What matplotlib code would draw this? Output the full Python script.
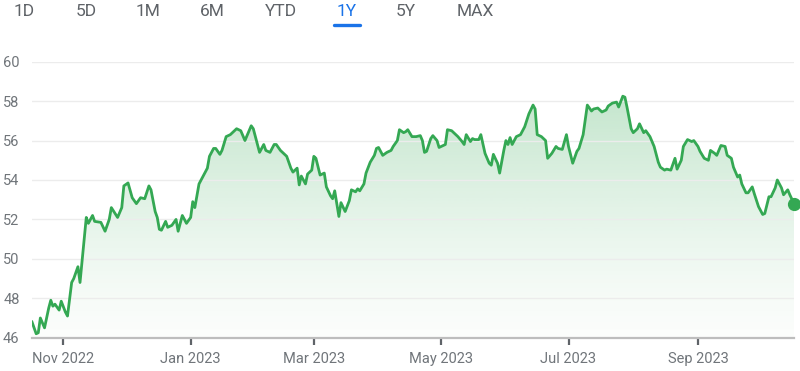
import matplotlib
matplotlib.use("Agg")
import matplotlib.pyplot as plt
import matplotlib.dates as mdates
import matplotlib.colors as mcolors
import numpy as np
import pandas as pd
from matplotlib.lines import Line2D

plt.rcParams["font.family"] = ["Roboto", "DejaVu Sans"]

# range selector tabs
ranges = ["1D", "5D", "1M", "6M", "YTD", "1Y", "5Y", "MAX"]
active_range = "1Y"

# closing prices
dates = [
    "2022-10-17", "2022-10-19", "2022-10-20", "2022-10-21", "2022-10-23", "2022-10-25",
    "2022-10-26", "2022-10-27", "2022-10-28", "2022-10-30", "2022-10-31", "2022-11-02",
    "2022-11-03", "2022-11-05", "2022-11-06", "2022-11-08", "2022-11-09", "2022-11-12",
    "2022-11-13", "2022-11-15", "2022-11-16", "2022-11-19", "2022-11-21", "2022-11-23",
    "2022-11-24", "2022-11-27", "2022-11-29", "2022-11-30", "2022-12-02", "2022-12-04",
    "2022-12-06", "2022-12-08", "2022-12-10", "2022-12-12", "2022-12-13", "2022-12-15",
    "2022-12-16", "2022-12-17", "2022-12-18", "2022-12-20", "2022-12-21", "2022-12-23",
    "2022-12-25", "2022-12-26", "2022-12-28", "2022-12-30", "2023-01-01", "2023-01-02",
    "2023-01-03", "2023-01-05", "2023-01-07", "2023-01-09", "2023-01-10", "2023-01-12",
    "2023-01-13", "2023-01-15", "2023-01-16", "2023-01-18", "2023-01-20", "2023-01-23",
    "2023-01-25", "2023-01-27", "2023-01-28", "2023-01-30", "2023-01-31", "2023-02-02",
    "2023-02-03", "2023-02-05", "2023-02-06", "2023-02-08", "2023-02-10", "2023-02-11",
    "2023-02-13", "2023-02-15", "2023-02-16", "2023-02-18", "2023-02-19", "2023-02-21",
    "2023-02-22", "2023-02-23", "2023-02-25", "2023-02-26", "2023-02-28", "2023-03-01",
    "2023-03-02", "2023-03-04", "2023-03-06", "2023-03-07", "2023-03-09", "2023-03-10",
    "2023-03-11", "2023-03-13", "2023-03-14", "2023-03-16", "2023-03-18", "2023-03-19",
    "2023-03-21", "2023-03-22", "2023-03-23", "2023-03-25", "2023-03-26", "2023-03-28",
    "2023-03-30", "2023-03-31", "2023-04-01", "2023-04-03", "2023-04-05", "2023-04-07",
    "2023-04-08", "2023-04-10", "2023-04-11", "2023-04-13", "2023-04-14", "2023-04-15",
    "2023-04-17", "2023-04-19", "2023-04-21", "2023-04-22", "2023-04-23", "2023-04-24",
    "2023-04-26", "2023-04-27", "2023-04-29", "2023-04-30", "2023-05-01", "2023-05-03",
    "2023-05-04", "2023-05-06", "2023-05-08", "2023-05-09", "2023-05-11", "2023-05-12",
    "2023-05-13", "2023-05-15", "2023-05-16", "2023-05-17", "2023-05-19", "2023-05-20",
    "2023-05-22", "2023-05-24", "2023-05-25", "2023-05-26", "2023-05-28", "2023-05-29",
    "2023-05-31", "2023-06-01", "2023-06-02", "2023-06-03", "2023-06-04", "2023-06-06",
    "2023-06-08", "2023-06-10", "2023-06-12", "2023-06-14", "2023-06-15", "2023-06-16",
    "2023-06-18", "2023-06-20", "2023-06-21", "2023-06-23", "2023-06-25", "2023-06-26",
    "2023-06-28", "2023-06-30", "2023-07-01", "2023-07-03", "2023-07-05", "2023-07-06",
    "2023-07-08", "2023-07-10", "2023-07-12", "2023-07-13", "2023-07-15", "2023-07-17",
    "2023-07-19", "2023-07-20", "2023-07-22", "2023-07-24", "2023-07-25", "2023-07-27",
    "2023-07-28", "2023-07-29", "2023-07-31", "2023-08-01", "2023-08-03", "2023-08-04",
    "2023-08-06", "2023-08-07", "2023-08-09", "2023-08-11", "2023-08-13", "2023-08-14",
    "2023-08-16", "2023-08-17", "2023-08-19", "2023-08-21", "2023-08-22", "2023-08-24",
    "2023-08-25", "2023-08-27", "2023-08-29", "2023-08-30", "2023-09-01", "2023-09-02",
    "2023-09-04", "2023-09-06", "2023-09-07", "2023-09-09", "2023-09-10", "2023-09-12",
    "2023-09-14", "2023-09-15", "2023-09-17", "2023-09-18", "2023-09-20", "2023-09-21",
    "2023-09-22", "2023-09-24", "2023-09-25", "2023-09-27", "2023-09-28", "2023-09-30",
    "2023-10-02", "2023-10-03", "2023-10-05", "2023-10-06", "2023-10-08", "2023-10-09",
    "2023-10-11", "2023-10-12", "2023-10-14", "2023-10-15", "2023-10-17",
]
prices = [
    46.8, 46.2, 46.25, 47.0, 46.5, 47.5,
    47.9, 47.6, 47.7, 47.4, 47.85, 47.3,
    47.1, 48.8, 49.0, 49.6, 48.8, 52.1,
    51.8, 52.2, 51.9, 51.85, 51.4, 52.0,
    52.6, 52.1, 52.6, 53.7, 53.85, 53.1,
    52.8, 53.1, 53.05, 53.7, 53.5, 52.4,
    52.1, 51.5, 51.45, 51.9, 51.6, 51.7,
    52.0, 51.4, 52.2, 51.8, 52.1, 52.9,
    52.6, 53.8, 54.2, 54.6, 55.2, 55.6,
    55.6, 55.3, 55.5, 56.2, 56.3, 56.6,
    56.5, 56.0, 56.25, 56.75, 56.6, 55.8,
    55.4, 55.8, 55.5, 55.4, 55.8, 55.8,
    55.5, 55.3, 55.2, 54.6, 54.4, 54.6,
    53.75, 54.2, 53.8, 54.3, 54.5, 55.2,
    55.1, 54.25, 54.35, 53.65, 53.2, 53.05,
    53.45, 52.15, 52.85, 52.4, 52.95, 53.5,
    53.4, 53.55, 53.45, 53.8, 54.35, 54.9,
    55.25, 55.6, 55.65, 55.25, 55.4, 55.5,
    55.7, 56.0, 56.55, 56.4, 56.45, 56.55,
    56.2, 56.2, 56.25, 56.0, 55.4, 55.45,
    56.1, 56.25, 56.0, 55.65, 55.7, 55.8,
    56.55, 56.5, 56.3, 56.2, 55.95, 55.8,
    56.3, 55.95, 56.1, 56.05, 56.05, 56.3,
    55.35, 54.85, 54.75, 55.3, 54.85, 54.35,
    55.5, 56.0, 55.8, 56.15, 55.8, 56.2,
    56.3, 56.7, 57.35, 57.8, 57.6, 56.3,
    56.2, 56.0, 55.1, 55.35, 55.7, 55.6,
    55.55, 56.3, 55.7, 54.85, 55.45, 55.6,
    56.3, 57.8, 57.5, 57.6, 57.65, 57.45,
    57.55, 57.75, 57.9, 57.95, 57.7, 58.25,
    58.2, 57.7, 56.6, 56.4, 56.6, 56.85,
    56.4, 56.5, 56.2, 55.7, 54.9, 54.65,
    54.5, 54.55, 54.5, 55.1, 54.55, 55.0,
    55.7, 56.05, 55.95, 56.0, 55.7, 55.45,
    55.1, 55.0, 55.5, 55.35, 55.25, 55.75,
    55.7, 55.25, 55.1, 54.65, 54.15, 54.25,
    53.8, 53.35, 53.35, 53.65, 53.3, 52.65,
    52.25, 52.3, 53.15, 53.15, 53.6, 54.0,
    53.6, 53.25, 53.5, 53.25, 52.8,
]
y_ticks = [46, 48, 50, 52, 54, 56, 58, 60]

green = "#34a853"
label_grey = "#70757a"
W, H = 800, 371

fig = plt.figure(figsize=(W / 100, H / 100), dpi=100)
# plot area in pixels
left, right, top, bottom = 32, 794, 61.7, 337.7
ax = fig.add_axes([left / W, 1 - bottom / H, (right - left) / W, (bottom - top) / H])

t = pd.to_datetime(dates)
v = np.array(prices)
xn = mdates.date2num(t)

ax.plot(t, v, color=green, lw=2.0, zorder=3, solid_joinstyle="round")
ax.plot(t[-1], v[-1], "o", color=green, ms=8.5, zorder=4, clip_on=False)

# vertical gradient under the line
ramp = np.linspace(0, 1, 256)[:, None]
rgba = np.zeros((256, 1, 4))
rgba[..., :3] = mcolors.to_rgb(green)
rgba[..., 3] = 0.02 + 0.27 * ramp ** 1.3
img = ax.imshow(rgba, extent=[xn[0], xn[-1], y_ticks[0], v.max()],
                origin="lower", aspect="auto", zorder=1, interpolation="bilinear")
poly = ax.fill_between(t, v, y_ticks[0], color="none", lw=0)
img.set_clip_path(poly.get_paths()[0], ax.transData)

ax.set_xlim(xn[0], xn[-1])
ax.set_ylim(y_ticks[0], y_ticks[-1])
ax.set_yticks(y_ticks)
ax.grid(axis="y", color="#ececec", lw=1, zorder=0)

ax.xaxis.set_major_locator(mdates.MonthLocator(bymonth=[1, 3, 5, 7, 9, 11]))
ax.xaxis.set_major_formatter(mdates.DateFormatter("%b %Y"))

for side in ("top", "right", "left"):
    ax.spines[side].set_visible(False)
ax.spines["bottom"].set_color("#bdbdbd")
ax.spines["bottom"].set_linewidth(1.6)

ax.tick_params(axis="x", length=5, width=1.6, color="#5f6368",
               labelcolor=label_grey, labelsize=10.5, pad=5)
ax.tick_params(axis="y", length=0, labelcolor=label_grey, labelsize=10.5, pad=9)

# range tabs along the top
tab_x = [24, 86, 148, 212, 281, 347, 406, 475]
for label, cx in zip(ranges, tab_x):
    col = "#1a73e8" if label == active_range else "#5f6368"
    fig.text(cx / W, 1 - 12 / H, label, ha="center", va="center",
             fontsize=12.5, color=col)
i = ranges.index(active_range)
fig.add_artist(Line2D([(tab_x[i] - 13) / W, (tab_x[i] + 13) / W], [1 - 24.5 / H] * 2,
                      transform=fig.transFigure, lw=2.4, color="#1a73e8",
                      solid_capstyle="round"))

fig.savefig("out.png", dpi=100)
